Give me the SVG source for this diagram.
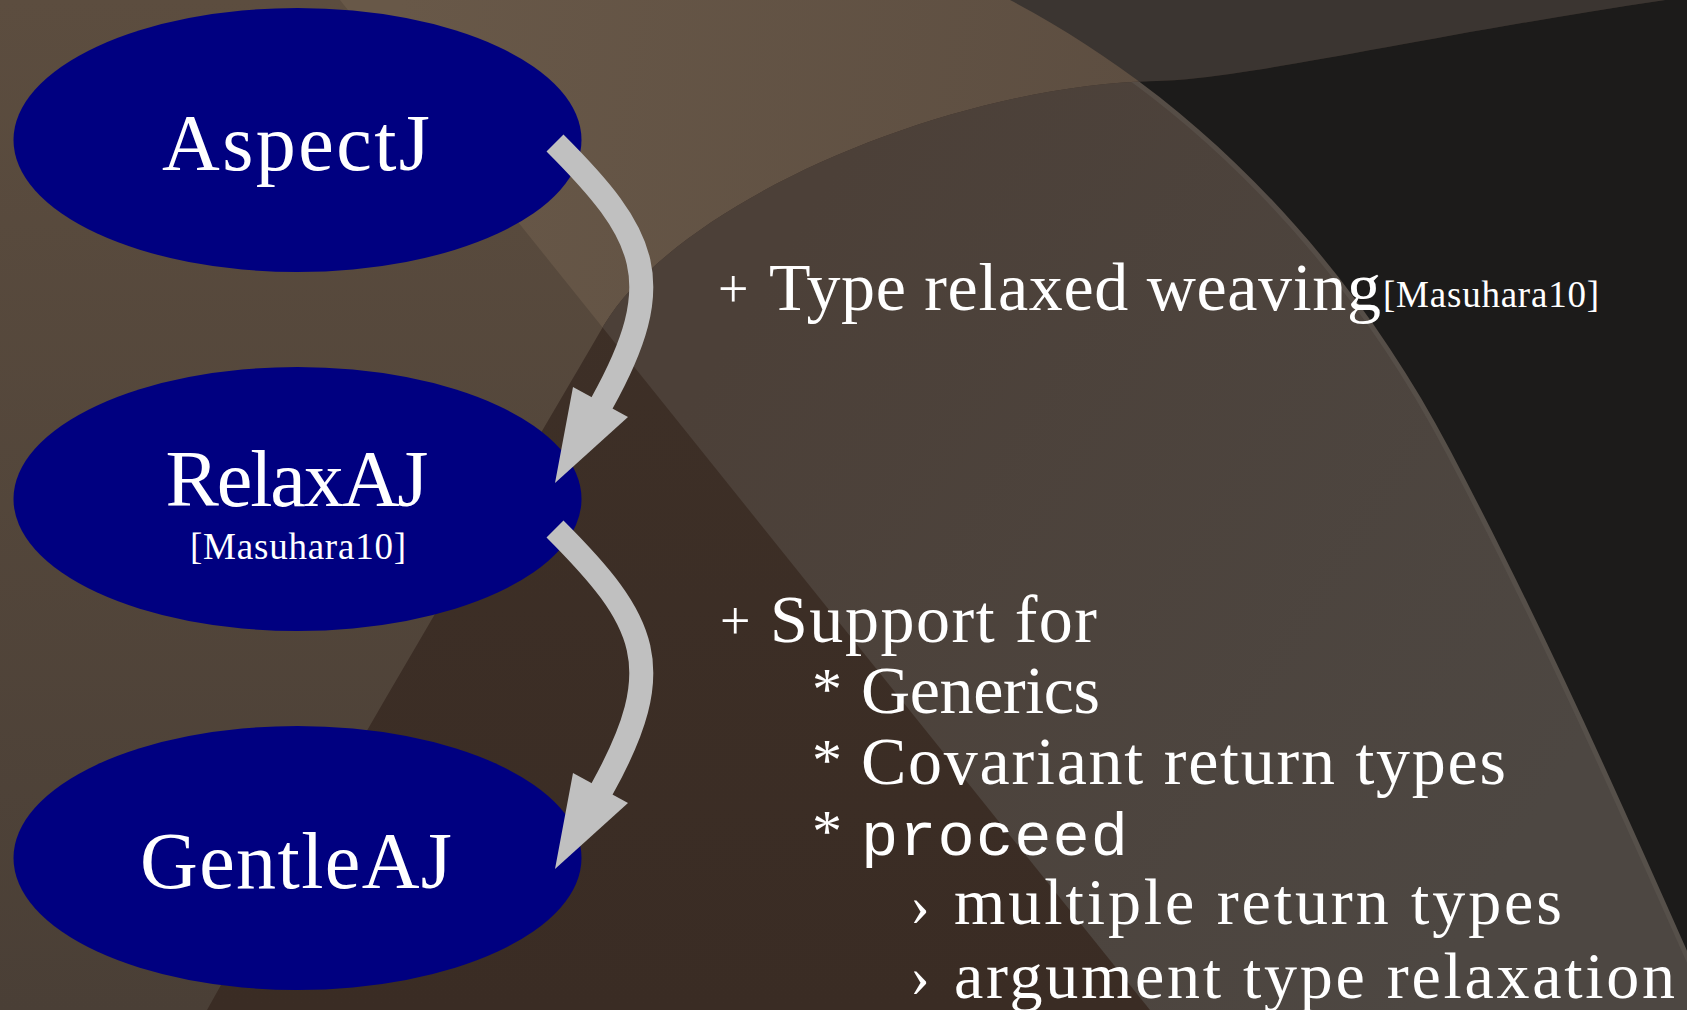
<svg xmlns="http://www.w3.org/2000/svg" width="1687" height="1010" viewBox="0 0 1687 1010">
  <style>
    .node { fill: #000080; }
    .lbl { font-family: "Liberation Serif", "Times New Roman", serif; fill: #ffffff; }
    .big { font-size: 80px; text-anchor: middle; }
    .ref { font-size: 37px; }
    .body { font-size: 68px; }
    .tight { font-size: 66px; }
    .bul { font-size: 54px; }
    .ast { font-size: 60px; }
    .chev { font-size: 60px; }
    .mono { font-family: "Liberation Mono", "Courier New", monospace; font-size: 62px; fill: #ffffff; }
    .shaft { fill: none; stroke: #c0c0c0; stroke-width: 24; stroke-linecap: butt; }
    .head { fill: #c0c0c0; }
  </style>
  <defs>
    <linearGradient id="gLeft" x1="0" y1="0" x2="0" y2="1">
      <stop offset="0" stop-color="#5c4d3f"/>
      <stop offset="1" stop-color="#4a3f36"/>
    </linearGradient>
    <linearGradient id="gBand" gradientUnits="userSpaceOnUse" x1="400" y1="0" x2="1150" y2="120">
      <stop offset="0" stop-color="#685848"/>
      <stop offset="1" stop-color="#5d4e41"/>
    </linearGradient>
    <linearGradient id="gMid" gradientUnits="userSpaceOnUse" x1="750" y1="300" x2="1550" y2="800">
      <stop offset="0" stop-color="#4c4038"/>
      <stop offset="1" stop-color="#4d4742"/>
    </linearGradient>
    <linearGradient id="gDark" x1="0" y1="0" x2="0" y2="1">
      <stop offset="0" stop-color="#3f3128"/>
      <stop offset="1" stop-color="#3a2c24"/>
    </linearGradient>
    <clipPath id="cInner">
      <path d="M 207,1010 C 330,790 520,470 604,325 C 680,200 950,85 1157,81 C 1250,79 1450,30 1700,-5 L 1700,1010 Z"/>
    </clipPath>
  </defs>

  <g id="background">
    <rect x="0" y="0" width="1687" height="1010" fill="url(#gLeft)"/>
    <path d="M 340,0 L 1700,0 L 1700,1010 L 1150,1010 Z" fill="url(#gBand)"/>
    <path d="M 1010,0 C 1200,100 1350,260 1450,450 C 1550,640 1620,800 1700,980 L 1700,0 Z" fill="#3b3531"/>
    <path d="M 207,1010 C 330,790 520,470 604,325 C 680,200 950,85 1157,81 C 1250,79 1450,30 1700,-5 L 1700,1010 Z" fill="url(#gDark)"/>
    <g clip-path="url(#cInner)">
      <path d="M 340,0 L 1700,0 L 1700,1010 L 1150,1010 Z" fill="url(#gMid)"/>
      <path d="M 1010,0 C 1200,100 1350,260 1450,450 C 1550,640 1620,800 1700,980" fill="none" stroke="#625c55" stroke-width="10" opacity="0.45"/>
      <path d="M 1010,0 C 1200,100 1350,260 1450,450 C 1550,640 1620,800 1700,980 L 1700,0 Z" fill="#1c1b1a"/>
    </g>
  </g>

  <g id="node-aspectj">
    <ellipse class="node" cx="297.5" cy="140" rx="284" ry="132"/>
    <text class="lbl big" x="296" y="170" textLength="268">AspectJ</text>
  </g>
  <g id="node-relaxaj">
    <ellipse class="node" cx="297.5" cy="499" rx="284" ry="132"/>
    <text class="lbl big" x="297" y="506" textLength="263">RelaxAJ</text>
    <text class="lbl ref" x="298" y="559" text-anchor="middle" textLength="216">[Masuhara10]</text>
  </g>
  <g id="node-gentleaj">
    <ellipse class="node" cx="297.5" cy="858" rx="284" ry="132"/>
    <text class="lbl big" x="296" y="888" textLength="312">GentleAJ</text>
  </g>

  <g id="connectors">
    <path class="shaft" d="M 555,143 C 647,235 670,281 602,403 L 591,423"/>
    <polygon class="head" points="573,387 628,417 555,483"/>
    <path class="shaft" d="M 555,529 C 647,621 670,667 602,789 L 591,809"/>
    <polygon class="head" points="573,773 628,803 555,869"/>
  </g>

  <g id="note-type-relaxed">
    <text class="lbl bul" x="718" y="307">+</text>
    <text class="lbl body" x="769" y="310" textLength="612">Type relaxed weaving</text>
    <text class="lbl ref" x="1383" y="307" textLength="216">[Masuhara10]</text>
  </g>

  <g id="note-support">
    <text class="lbl bul" x="720" y="639">+</text>
    <text class="lbl body" x="770" y="642" textLength="327">Support for</text>
    <text class="lbl ast" x="812" y="709">*</text>
    <text class="lbl body" x="861" y="713" textLength="239">Generics</text>
    <text class="lbl ast" x="812" y="780">*</text>
    <text class="lbl body" x="861" y="784" textLength="645">Covariant return types</text>
    <text class="lbl ast" x="812" y="851">*</text>
    <text class="mono" x="861" y="855" textLength="267">proceed</text>
    <text class="lbl chev" x="910" y="925">›</text>
    <text class="lbl tight" x="954" y="924" textLength="608">multiple return types</text>
    <text class="lbl chev" x="910" y="996">›</text>
    <text class="lbl tight" x="954" y="998" textLength="721">argument type relaxation</text>
  </g>
</svg>
